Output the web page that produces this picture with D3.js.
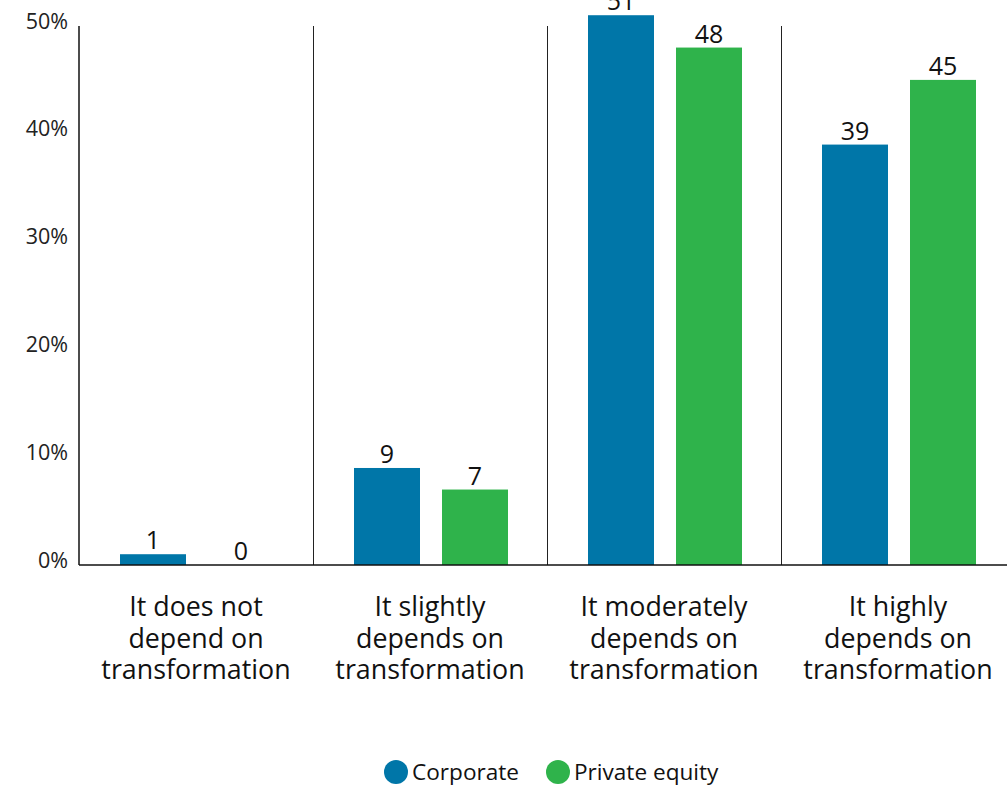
<!DOCTYPE html>
<html><head><meta charset="utf-8">
<script src="https://cdn.jsdelivr.net/npm/d3@7"></script>
<style>body{margin:0;background:#fff}svg{display:block;font-family:"Open Sans",sans-serif}</style>
</head><body><svg id="c" width="1007" height="786"></svg>
<script>
const categories = [
  ["It does not", "depend on", "transformation"],
  ["It slightly", "depends on", "transformation"],
  ["It moderately", "depends on", "transformation"],
  ["It highly", "depends on", "transformation"]
];
const seriesNames = ["Corporate", "Private equity"];
const corporate = [1, 9, 51, 39];
const privateEquity = [0, 7, 48, 45];
const yTicks = [0, 10, 20, 30, 40, 50];
const colors = ["#0076a8", "#2fb34b"];

const svg = d3.select("#c");
const x = d3.scaleBand().domain(d3.range(categories.length)).range([80, 1016]).padding(0);
const xs = d3.scaleBand().domain(d3.range(seriesNames.length)).range([40, 194]).paddingInner(0.25).paddingOuter(0);
const y = d3.scaleLinear().domain([0, 50]).range([565, 26]);
const values = [corporate, privateEquity];

// y tick labels
svg.append("g").selectAll("text").data(yTicks).join("text")
  .attr("x", 68).attr("y", d => y(d) + 2.5)
  .attr("text-anchor", "end").attr("font-size", 21.5).attr("fill", "#222")
  .text(d => d + "%");

// separators
svg.append("g").selectAll("line").data(d3.range(1, categories.length)).join("line")
  .attr("x1", d => x(d) - 0.5).attr("x2", d => x(d) - 0.5)
  .attr("y1", y(50)).attr("y2", y(0))
  .attr("stroke", "#222").attr("stroke-width", 1);

// bars
const g = svg.append("g");
values.forEach((vals, si) => {
  g.append("g").selectAll("rect").data(vals).join("rect")
    .attr("x", (d, i) => x(i) + xs(si)).attr("width", xs.bandwidth())
    .attr("y", d => y(d)).attr("height", d => y(0) - y(d))
    .attr("fill", colors[si]);
  g.append("g").selectAll("text").data(vals).join("text")
    .attr("x", (d, i) => x(i) + xs(si) + xs.bandwidth() / 2)
    .attr("y", d => y(d) - 5)
    .attr("text-anchor", "middle").attr("font-size", 25).attr("fill", "#111")
    .text(d => d);
});

// axes lines
svg.append("line").attr("x1", 79).attr("x2", 79).attr("y1", y(50)).attr("y2", y(0))
  .attr("stroke", "#111").attr("stroke-width", 1.5);
svg.append("line").attr("x1", 79).attr("x2", 1016).attr("y1", y(0)).attr("y2", y(0))
  .attr("stroke", "#111").attr("stroke-width", 1.5);

// category labels
const cl = svg.append("g").selectAll("text").data(categories).join("text")
  .attr("x", (d, i) => x(i) + x.bandwidth() / 2 - 1)
  .attr("text-anchor", "middle").attr("font-size", 26.8).attr("fill", "#111");
cl.each(function(d) {
  d3.select(this).selectAll("tspan").data(d).join("tspan")
    .attr("x", d3.select(this).attr("x"))
    .attr("y", (t, j) => 616 + j * 31.5)
    .text(t => t);
});

// legend
const legX = [396, 558];
const lg = svg.append("g");
seriesNames.forEach((n, i) => {
  lg.append("circle").attr("cx", legX[i]).attr("cy", 772).attr("r", 12).attr("fill", colors[i]);
  lg.append("text").attr("x", legX[i] + 16).attr("y", 780).attr("font-size", 22.6).attr("fill", "#111").text(n);
});
</script></body></html>
